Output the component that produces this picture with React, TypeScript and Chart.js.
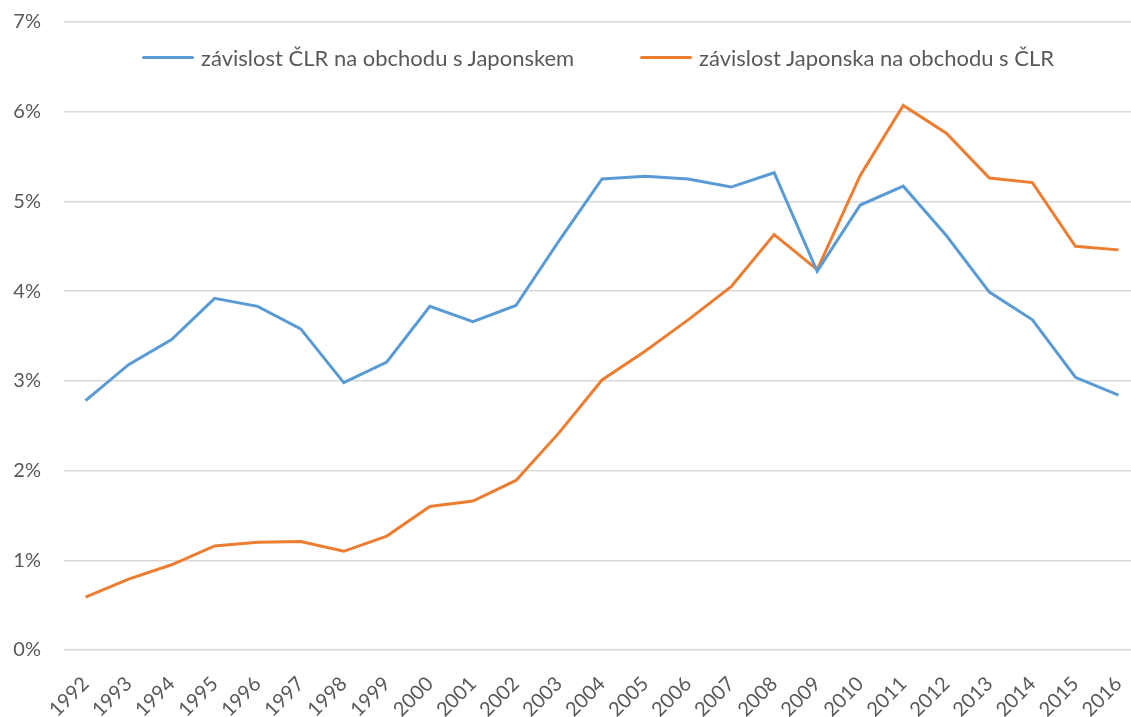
import React, { useEffect, useRef } from "react";
import { Chart, registerables } from "chart.js";

Chart.register(...registerables);

const years = ["1992","1993","1994","1995","1996","1997","1998","1999","2000","2001","2002","2003","2004","2005","2006","2007","2008","2009","2010","2011","2012","2013","2014","2015","2016"];
const chinaDep = [2.78,3.18,3.46,3.92,3.83,3.58,2.98,3.21,3.83,3.66,3.84,4.56,5.25,5.28,5.25,5.16,5.32,4.22,4.96,5.17,4.62,3.99,3.68,3.04,2.84];
const japanDep = [0.59,0.79,0.95,1.16,1.20,1.21,1.10,1.27,1.60,1.66,1.89,2.42,3.01,3.33,3.68,4.05,4.63,4.24,5.29,6.07,5.76,5.26,5.21,4.50,4.46];
const seriesNames = ["závislost ČLR na obchodu s Japonskem", "závislost Japonska na obchodu s ČLR"];
const colors = ["#5B9BD5", "#ED7D31"];
const textColor = "#595959";
const fontFamily = "Lato, 'Open Sans', sans-serif";

export default function App() {
  const ref = useRef<HTMLCanvasElement>(null);
  useEffect(() => {
    document.body.style.margin = "0";
    const chart = new Chart(ref.current!, {
      type: "line",
      data: {
        labels: years,
        datasets: [
          { label: seriesNames[0], data: chinaDep, borderColor: colors[0], backgroundColor: colors[0], borderWidth: 3, pointRadius: 0, tension: 0 },
          { label: seriesNames[1], data: japanDep, borderColor: colors[1], backgroundColor: colors[1], borderWidth: 3, pointRadius: 0, tension: 0 },
        ],
      },
      options: {
        animation: false,
        responsive: false,
        layout: { padding: { left: 0, right: 0, top: 22, bottom: 0 } },
        plugins: { legend: { display: false }, tooltip: { enabled: false } },
        scales: {
          x: {
            offset: true,
            grid: { display: false },
            border: { display: false },
            ticks: { color: textColor, font: { family: fontFamily, size: 20 }, minRotation: 45, maxRotation: 45, padding: 14, autoSkip: false },
            afterFit: (s: any) => { s.height = 67; s.paddingLeft = 0; s.paddingRight = 0; },
          },
          y: {
            min: 0,
            max: 7,
            grid: { color: "#d9d9d9", lineWidth: 1.5, drawTicks: false },
            border: { display: false },
            ticks: { stepSize: 1, color: textColor, padding: 23, font: { family: fontFamily, size: 20 }, callback: (v: any) => `${v}%` },
            afterFit: (s: any) => { s.width = 64; s.paddingTop = 0; s.paddingBottom = 0; },
          },
        },
      },
    });
    return () => chart.destroy();
  }, []);

  const legendItem = (i: number, left: number) => (
    <div style={{ position: "absolute", left, top: 44, display: "flex", alignItems: "center", fontFamily, fontSize: 22, color: textColor, whiteSpace: "nowrap" }}>
      <span style={{ display: "inline-block", width: 52, height: 3, background: colors[i], borderRadius: 2, marginRight: 7 }} />
      <span>{seriesNames[i]}</span>
    </div>
  );

  return (
    <div style={{ position: "relative", width: 1131, height: 717, overflow: "hidden" }}>
      <canvas ref={ref} width={1140} height={717} style={{ display: "block" }} />
      {legendItem(0, 142)}
      {legendItem(1, 640)}
    </div>
  );
}
